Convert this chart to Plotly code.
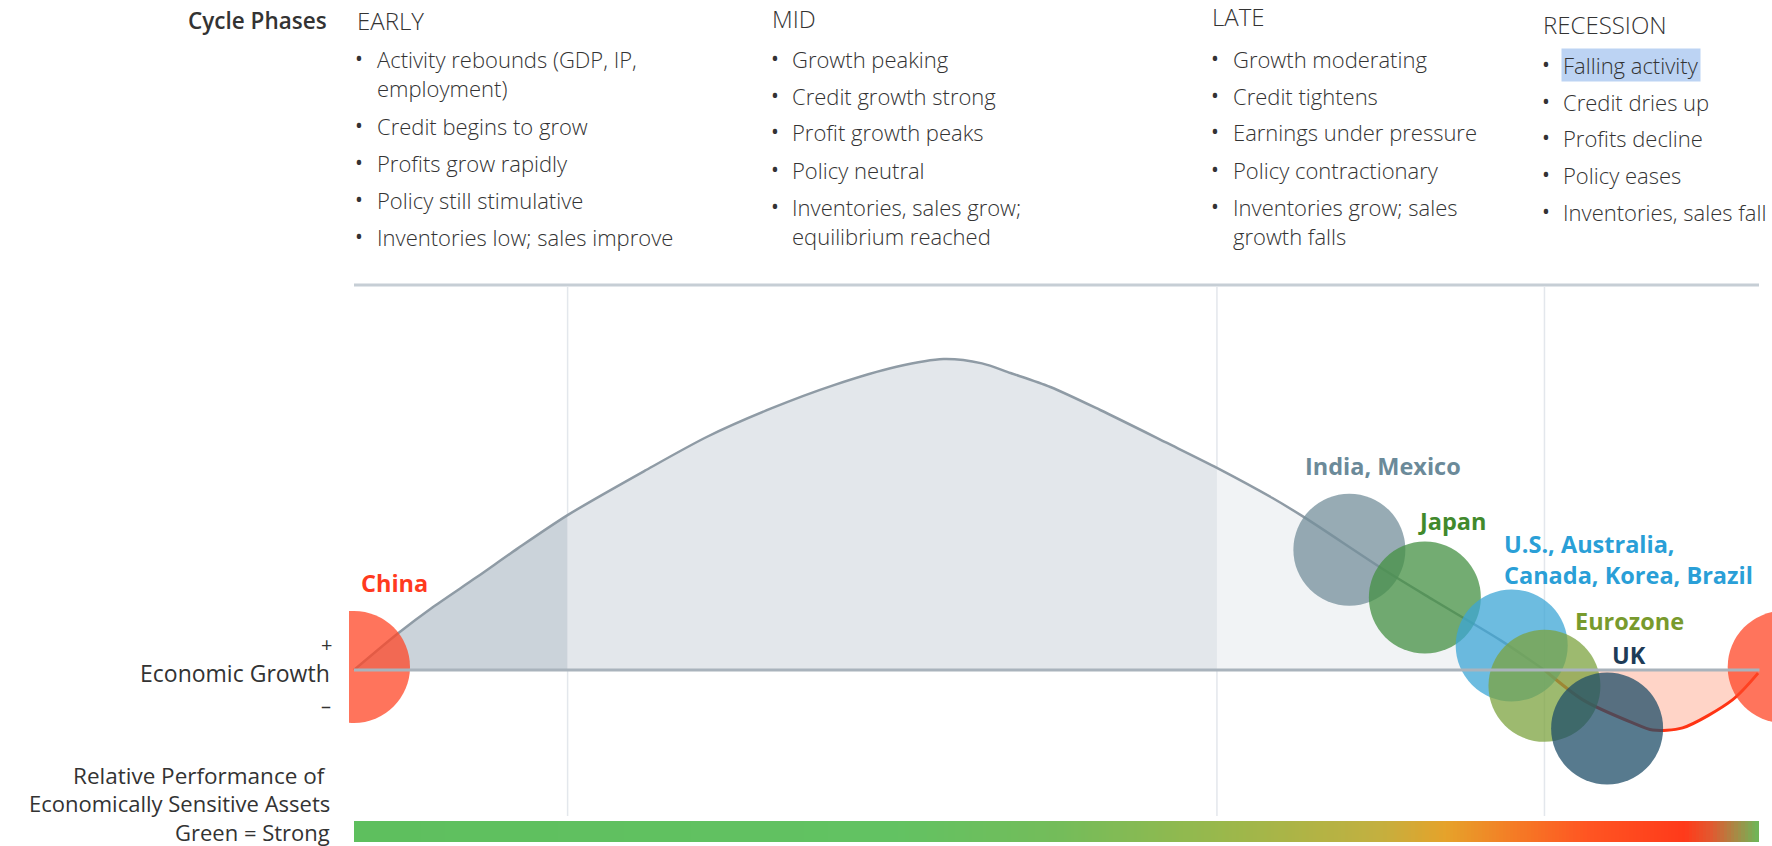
import numpy as np
import plotly.graph_objects as go

# ---------------- data ----------------
phase_names = ["EARLY", "MID", "LATE", "RECESSION"]
phase_bounds = [0.0, 15.0, 60.6, 83.6, 98.6]          # cycle position (0-100)
phase_fill = ["#cbd3da", "#e3e7eb", "#f1f3f5", "rgba(255,160,130,0.45)"]

# economic growth curve (cycle position, growth index; peak = 100)
curve_x = [0, 3.1, 5.6, 8.6, 11.5, 15.0, 20.4, 24.8, 29.3, 33.7, 38.1, 41.4, 44.1, 46.1,
           48.9, 52.4, 57.1, 60.6, 64.5, 66.8, 72.3, 75.8, 80.5, 83.6, 86.3, 89.8, 91.2,
           93.3, 96.8, 98.6]
curve_y = [0, 11.8, 20.4, 29.8, 39.1, 49.8, 64.0, 75.0, 84.1, 91.6, 97.5, 100, 98.6, 95.5,
           91.0, 83.6, 73.0, 65.0, 55.3, 48.9, 32.3, 22.5, 9.6, 0, -9.6, -17.0, -19.3,
           -18.6, -9.6, -1.0]

countries = ["China", "India, Mexico", "Japan", "U.S., Australia,<br>Canada, Korea, Brazil",
             "Eurozone", "UK", "China"]
country_x = [0.0, 69.9, 75.2, 81.3, 83.6, 88.0, 100.4]
country_y = [1.0, 38.7, 23.3, 7.9, -5.1, -18.8, 1.0]
country_fill = ["rgba(255,69,37,0.75)", "rgba(116,143,155,0.75)", "rgba(68,144,67,0.75)",
                "rgba(60,165,213,0.75)", "rgba(124,163,63,0.75)", "rgba(31,77,104,0.75)",
                "rgba(255,69,37,0.75)"]
country_text_col = ["#ff3a1e", "#6b8a99", "#41892c", "#2a9fd7", "#789a2d", "#1d3b57", None]

phase_items = {
    "EARLY": [["Activity rebounds (GDP, IP,", "employment)"], ["Credit begins to grow"],
              ["Profits grow rapidly"], ["Policy still stimulative"],
              ["Inventories low; sales improve"]],
    "MID": [["Growth peaking"], ["Credit growth strong"], ["Profit growth peaks"],
            ["Policy neutral"], ["Inventories, sales grow;", "equilibrium reached"]],
    "LATE": [["Growth moderating"], ["Credit tightens"], ["Earnings under pressure"],
             ["Policy contractionary"], ["Inventories grow; sales", "growth falls"]],
    "RECESSION": [["Falling activity"], ["Credit dries up"], ["Profits decline"],
                  ["Policy eases"], ["Inventories, sales fall"]],
}

# relative performance gradient (cycle position -> colour)
grad_pos = [0, 38, 49.6, 60.6, 71.8, 76.8, 81.7, 86.6, 93.5, 95.4, 97.3, 98.7]
grad_col = ["#5ebf5e", "#62c262", "#74bc5a", "#98b84c", "#c2b040", "#e6a22a",
            "#f57a25", "#ff5522", "#ff3a1a", "#e05a30", "#a09048", "#6cb858"]

# ---------------- layout geometry ----------------
W, H = 1772, 846
PLOT_L = 349
X0_PX, XU = 354, 14.24
BASE_PX, YU = 670, 3.11


def u(px):
    return (px - X0_PX) / XU


def v(py):
    return (BASE_PX - py) / YU


def xp(px):
    return (px - PLOT_L) / (W - PLOT_L)


def yp(py):
    return (H - py) / H


FONT = "Open Sans"
fig = go.Figure()

# phase fills
for i in range(4):
    lo, hi = phase_bounds[i], phase_bounds[i + 1]
    xs = [x for x in curve_x if lo - 1e-9 <= x <= hi + 1e-9]
    ys = [curve_y[curve_x.index(x)] for x in xs]
    fig.add_trace(go.Scatter(x=xs, y=ys, mode="lines", fill="tozeroy",
                             fillcolor=phase_fill[i], line=dict(width=0, shape="spline", smoothing=0.8),
                             hoverinfo="skip"))

# curve line: grey above zero, red after crossing
split = curve_x.index(83.6)
fig.add_trace(go.Scatter(x=curve_x[:split + 1], y=curve_y[:split + 1], mode="lines",
                         line=dict(color="#8f9ba5", width=2.5, shape="spline", smoothing=0.8),
                         hoverinfo="skip"))
fig.add_trace(go.Scatter(x=curve_x[split:], y=curve_y[split:], mode="lines",
                         line=dict(color="#ff3414", width=3, shape="spline", smoothing=0.8),
                         hoverinfo="skip"))

# country bubbles
fig.add_trace(go.Scatter(x=country_x, y=country_y, mode="markers",
                         marker=dict(size=112, color=country_fill, line=dict(width=0)),
                         cliponaxis=True, hoverinfo="skip"))

# gradient bar
n = 400
edges = np.linspace(0, grad_pos[-1], n + 1)
centers = (edges[:-1] + edges[1:]) / 2
fig.add_trace(go.Heatmap(x=edges, y=[v(842), v(821)], z=[centers], zmin=0, zmax=grad_pos[-1],
                         colorscale=[[p / grad_pos[-1], c] for p, c in zip(grad_pos, grad_col)],
                         showscale=False, hoverinfo="skip"))

shapes = []
# top rule
shapes.append(dict(type="line", xref="x", yref="y", x0=u(354), x1=u(1759), y0=v(285), y1=v(285),
                   line=dict(color="#c6ced5", width=3), layer="below"))
# phase dividers
for b in phase_bounds[1:4]:
    shapes.append(dict(type="line", xref="x", yref="y", x0=b, x1=b, y0=v(816), y1=v(287),
                       line=dict(color="#e3e7ec", width=1.5), layer="below"))
# baseline
shapes.append(dict(type="line", xref="x", yref="y", x0=0, x1=curve_x[-1] + 0.1, y0=0, y1=0,
                   line=dict(color="#a9b3bc", width=3), layer="above"))

ann = []


def text(s, x, y, size, color="#333333", weight=400, anchor="left", bg=None):
    d = dict(text=s, x=xp(x), y=yp(y), xref="paper", yref="paper", showarrow=False,
             xanchor=anchor, yanchor="middle", align=anchor,
             font=dict(family=FONT, size=size, color=color, weight=weight))
    if bg:
        d["bgcolor"] = bg
        d["borderpad"] = 1
    ann.append(d)


# header
text("Cycle Phases", 329, 21, 22.5, "#333333", 600, "right")
head_pos = {"EARLY": (355, 21), "MID": (770, 19), "LATE": (1210, 16), "RECESSION": (1541, 25)}
bullet_x = {"EARLY": (359, 375), "MID": (775, 790), "LATE": (1215, 1231), "RECESSION": (1546, 1561)}
rows = {"EARLY": [59, 88, 126, 163, 200, 237], "MID": [59, 96, 132, 170, 207, 236],
        "LATE": [59, 96, 132, 170, 207, 236], "RECESSION": [65, 102, 138, 175, 212]}
for ph in phase_names:
    hx, hy = head_pos[ph]
    text(ph, hx, hy, 24, "#333333", 300)
    bx, tx = bullet_x[ph]
    r = 0
    for item in phase_items[ph]:
        text("•", bx, rows[ph][r] - 1, 21, "#333333", 400, "center")
        for k, line in enumerate(item):
            bg = "#bcd3f3" if line == "Falling activity" else None
            text(line, tx, rows[ph][r], 22, "#333333", 300, bg=bg)
            r += 1

# left labels
text("+", 326, 644, 20, "#333333", 400, "center")
text("Economic Growth", 332, 673, 23, "#333333", 400, "right")
text("–", 326, 705, 20, "#333333", 400, "center")
text("Relative Performance of", 328, 775, 22.5, "#333333", 400, "right")
text("Economically Sensitive Assets", 332, 803, 22, "#333333", 400, "right")
text("Green = Strong", 332, 832, 22, "#333333", 400, "right")

# country labels
label_pos = [(359, 583), (1303, 466), (1416, 521), (1502, 559), (1573, 621), (1610, 655)]
for i, (lx, ly) in enumerate(label_pos):
    text(countries[i], lx, ly, 23.5, country_text_col[i], 700)

fig.update_layout(
    width=W, height=H, margin=dict(l=PLOT_L, r=0, t=0, b=0),
    plot_bgcolor="white", paper_bgcolor="white", showlegend=False,
    xaxis=dict(range=[u(PLOT_L), u(W)], visible=False, fixedrange=True),
    yaxis=dict(range=[v(H), v(0)], visible=False, fixedrange=True),
    shapes=shapes, annotations=ann,
)
fig.write_html("out.html")
